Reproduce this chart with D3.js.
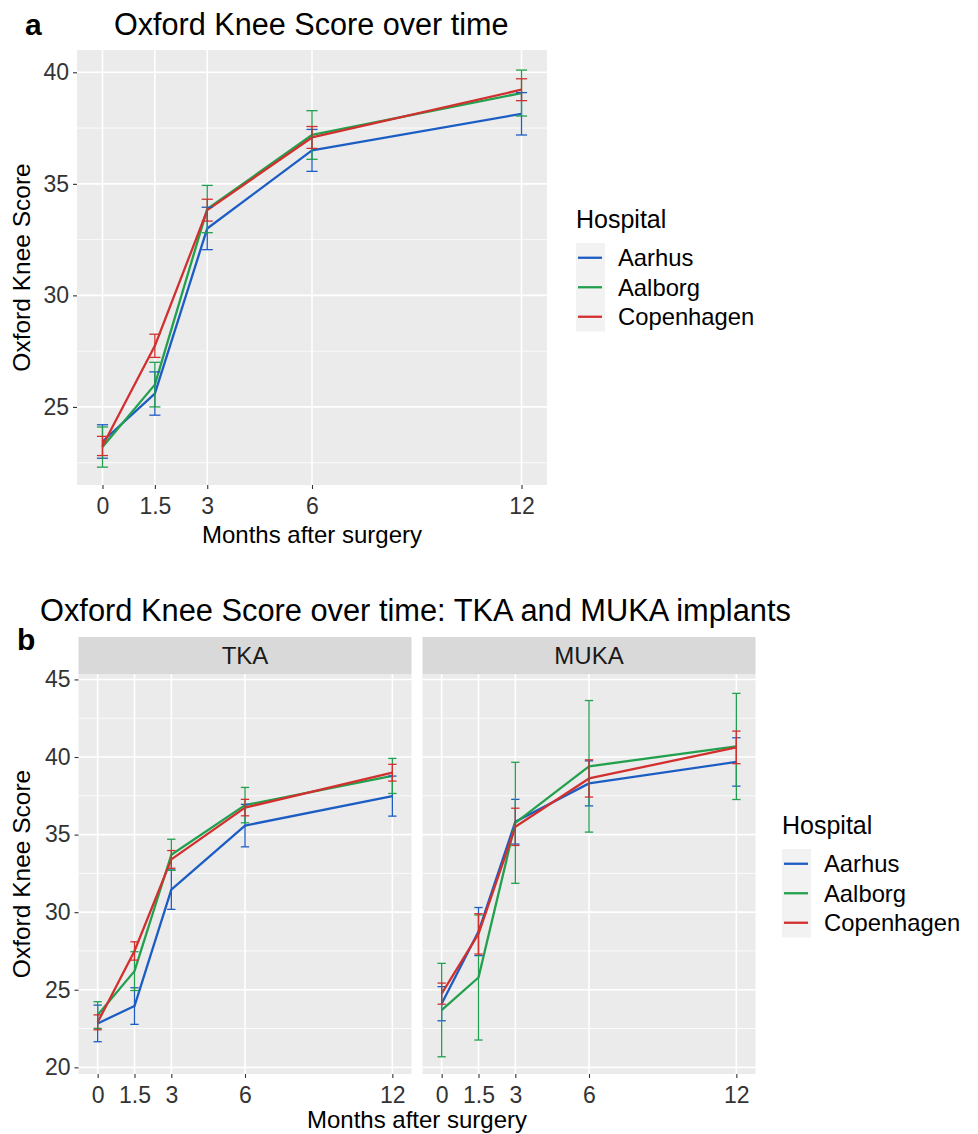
<!DOCTYPE html>
<html><head><meta charset="utf-8">
<script src="https://cdn.jsdelivr.net/npm/d3@7"></script>
<style>body{margin:0;background:#fff}svg{display:block}text{font-family:"Liberation Sans",Arial,sans-serif}</style>
</head><body>
<script>
// ---- data ----
const months = [0, 1.5, 3, 6, 12];
const hospitals = ["Aarhus", "Aalborg", "Copenhagen"];
const hospitalColors = ["#1c5dc4", "#22a04d", "#d22f2f"];

// Panel a: overall
const allAarhus = [23.45, 25.6, 33.0, 36.5, 38.14];
const allAarhusErr = [0.75, 0.97, 0.95, 0.94, 0.95];
const allAalborg = [23.2, 26.0, 33.87, 37.19, 39.07];
const allAalborgErr = [0.9, 1.0, 1.06, 1.09, 1.03];
const allCopenhagen = [23.25, 27.74, 33.82, 37.08, 39.22];
const allCopenhagenErr = [0.43, 0.52, 0.49, 0.49, 0.49];

// Panel b: TKA
const tkaAarhus = [22.83, 23.95, 31.45, 35.58, 37.48];
const tkaAarhusErr = [1.18, 1.18, 1.27, 1.37, 1.29];
const tkaAalborg = [23.37, 26.2, 33.7, 36.9, 38.78];
const tkaAalborgErr = [0.86, 1.25, 1.0, 1.14, 1.13];
const tkaCopenhagen = [22.9, 27.5, 33.4, 36.74, 38.99];
const tkaCopenhagenErr = [0.48, 0.59, 0.57, 0.53, 0.54];

// Panel b: MUKA
const mukaAarhus = [24.1, 28.75, 35.83, 38.3, 39.68];
const mukaAarhusErr = [1.1, 1.55, 1.44, 1.45, 1.56];
const mukaAalborg = [23.69, 25.79, 35.76, 39.4, 40.68];
const mukaAalborgErr = [3.01, 4.03, 3.9, 4.24, 3.42];
const mukaCopenhagen = [24.75, 28.6, 35.5, 38.62, 40.62];
const mukaCopenhagenErr = [0.68, 1.3, 1.2, 1.2, 1.05];

const yTicksA = [25, 30, 35, 40];
const yTicksB = [20, 25, 30, 35, 40, 45];
const facets = ["TKA", "MUKA"];

function makeSeries(means, errs) {
  return hospitals.map((h, i) => ({
    name: h, color: hospitalColors[i],
    pts: months.map((m, j) => ({x: m, y: means[i][j], e: errs[i][j]}))
  }));
}
const seriesA = makeSeries([allAarhus, allAalborg, allCopenhagen], [allAarhusErr, allAalborgErr, allCopenhagenErr]);
const seriesTKA = makeSeries([tkaAarhus, tkaAalborg, tkaCopenhagen], [tkaAarhusErr, tkaAalborgErr, tkaCopenhagenErr]);
const seriesMUKA = makeSeries([mukaAarhus, mukaAalborg, mukaCopenhagen], [mukaAarhusErr, mukaAalborgErr, mukaCopenhagenErr]);

// ---- drawing ----
const W = 978, H = 1134;
const svg = d3.select("body").append("svg").attr("width", W).attr("height", H);

function panel(opts) {
  const {x0, x1, y0, y1, xDom, yDom, yTicks, series, yLabels, capW} = opts;
  const x = d3.scaleLinear().domain(xDom).range([x0, x1]);
  const y = d3.scaleLinear().domain(yDom).range([y1, y0]);
  const g = svg.append("g");
  g.append("rect").attr("x", x0).attr("y", y0).attr("width", x1 - x0).attr("height", y1 - y0).attr("fill", "#ebebeb");
  // minor y grid
  const minors = [];
  for (let i = 0; i < yTicks.length - 1; i++) minors.push((yTicks[i] + yTicks[i + 1]) / 2);
  if (yTicks[0] - 2.5 > yDom[0]) minors.unshift(yTicks[0] - 2.5);
  if (yTicks[yTicks.length - 1] + 2.5 < yDom[1]) minors.push(yTicks[yTicks.length - 1] + 2.5);
  g.selectAll(".mn").data(minors).join("line")
    .attr("x1", x0).attr("x2", x1).attr("y1", d => y(d)).attr("y2", d => y(d))
    .attr("stroke", "#fff").attr("stroke-width", 0.8);
  g.selectAll(".mjy").data(yTicks).join("line")
    .attr("x1", x0).attr("x2", x1).attr("y1", d => y(d)).attr("y2", d => y(d))
    .attr("stroke", "#fff").attr("stroke-width", 1.6);
  g.selectAll(".mjx").data(months).join("line")
    .attr("x1", d => x(d)).attr("x2", d => x(d)).attr("y1", y0).attr("y2", y1)
    .attr("stroke", "#fff").attr("stroke-width", 1.6);
  // lines
  const line = d3.line().x(d => x(d.x)).y(d => y(d.y));
  series.forEach(s => {
    g.append("path").datum(s.pts).attr("d", line).attr("fill", "none")
      .attr("stroke", s.color).attr("stroke-width", 2.3).attr("stroke-linejoin", "round");
  });
  // error bars
  series.forEach(s => {
    const eb = g.append("g").attr("stroke", s.color).attr("stroke-width", 1.3).attr("fill", "none");
    s.pts.forEach(p => {
      eb.append("line").attr("x1", x(p.x)).attr("x2", x(p.x)).attr("y1", y(p.y - p.e)).attr("y2", y(p.y + p.e));
      [p.y - p.e, p.y + p.e].forEach(v => {
        eb.append("line").attr("x1", x(p.x - capW)).attr("x2", x(p.x + capW)).attr("y1", y(v)).attr("y2", y(v));
      });
    });
  });
  // axes
  const ax = g.append("g").attr("transform", `translate(0,${y1})`)
    .call(d3.axisBottom(x).tickValues(months).tickFormat(d => d).tickSize(4).tickPadding(9));
  ax.select(".domain").remove();
  ax.selectAll("line").attr("stroke", "#333").attr("stroke-width", 1.1);
  ax.selectAll("text").attr("font-size", 23).attr("fill", "#333")
    .attr("font-family", '"Liberation Sans",Arial,sans-serif').attr("dy", "0.71em");
  const ay = g.append("g").attr("transform", `translate(${x0},0)`)
    .call(d3.axisLeft(y).tickValues(yTicks).tickSize(yLabels ? 4 : 0).tickPadding(4));
  ay.select(".domain").remove();
  ay.selectAll("line").attr("stroke", "#333").attr("stroke-width", 1.1);
  ay.selectAll("text").attr("font-size", 23).attr("fill", "#333")
    .attr("font-family", '"Liberation Sans",Arial,sans-serif');
  if (!yLabels) ay.selectAll("text").remove();
  return {x, y, g};
}

function legend(lx, ty) {
  const g = svg.append("g");
  g.append("text").attr("x", lx).attr("y", ty).attr("font-size", 25).attr("fill", "#000").text("Hospital");
  const kh = 29.5, top = ty + 15;
  g.append("rect").attr("x", lx).attr("y", top).attr("width", 29).attr("height", kh * hospitals.length).attr("fill", "#f2f2f2");
  hospitals.forEach((h, i) => {
    const cy = top + kh * i + kh / 2;
    g.append("line").attr("x1", lx + 2).attr("x2", lx + 26).attr("y1", cy).attr("y2", cy)
      .attr("stroke", hospitalColors[i]).attr("stroke-width", 2.3);
    g.append("text").attr("x", lx + 42).attr("y", cy + 8.5).attr("font-size", 23.8).attr("fill", "#000").text(h);
  });
}

// ---- Panel a ----
svg.append("text").attr("x", 25).attr("y", 35).attr("font-size", 30).attr("font-weight", "bold").text("a");
svg.append("text").attr("x", 114).attr("y", 35).attr("font-size", 30.6).text("Oxford Knee Score over time");
panel({x0: 77, x1: 547, y0: 50, y1: 485, xDom: [-0.73, 12.73], yDom: [21.5, 41.0],
  yTicks: yTicksA, series: seriesA, yLabels: true, capW: 0.16});
svg.append("text").attr("x", 312).attr("y", 543).attr("text-anchor", "middle").attr("font-size", 24).text("Months after surgery");
svg.append("text").attr("transform", "translate(30,267.5) rotate(-90)").attr("text-anchor", "middle").attr("font-size", 24.5).text("Oxford Knee Score");
legend(576, 228);

// ---- Panel b ----
svg.append("text").attr("x", 17).attr("y", 650).attr("font-size", 30).attr("font-weight", "bold").text("b");
svg.append("text").attr("x", 40).attr("y", 621).attr("font-size", 30.8).text("Oxford Knee Score over time: TKA and MUKA implants");
const facetSeries = [seriesTKA, seriesMUKA];
const facetX = [[78.5, 411.5], [422.5, 755.5]];
facets.forEach((f, i) => {
  const [fx0, fx1] = facetX[i];
  svg.append("rect").attr("x", fx0).attr("y", 637).attr("width", fx1 - fx0).attr("height", 37).attr("fill", "#d9d9d9");
  svg.append("text").attr("x", (fx0 + fx1) / 2).attr("y", 664).attr("text-anchor", "middle").attr("font-size", 24).attr("fill", "#1a1a1a").text(f);
  panel({x0: fx0, x1: fx1, y0: 674, y1: 1074, xDom: [-0.78, 12.78], yDom: [19.57, 45.35],
    yTicks: yTicksB, series: facetSeries[i], yLabels: i === 0, capW: 0.17});
});
svg.append("text").attr("x", 417).attr("y", 1128).attr("text-anchor", "middle").attr("font-size", 24).text("Months after surgery");
svg.append("text").attr("transform", "translate(30,874) rotate(-90)").attr("text-anchor", "middle").attr("font-size", 24.5).text("Oxford Knee Score");
legend(782, 834);
</script>
</body></html>
